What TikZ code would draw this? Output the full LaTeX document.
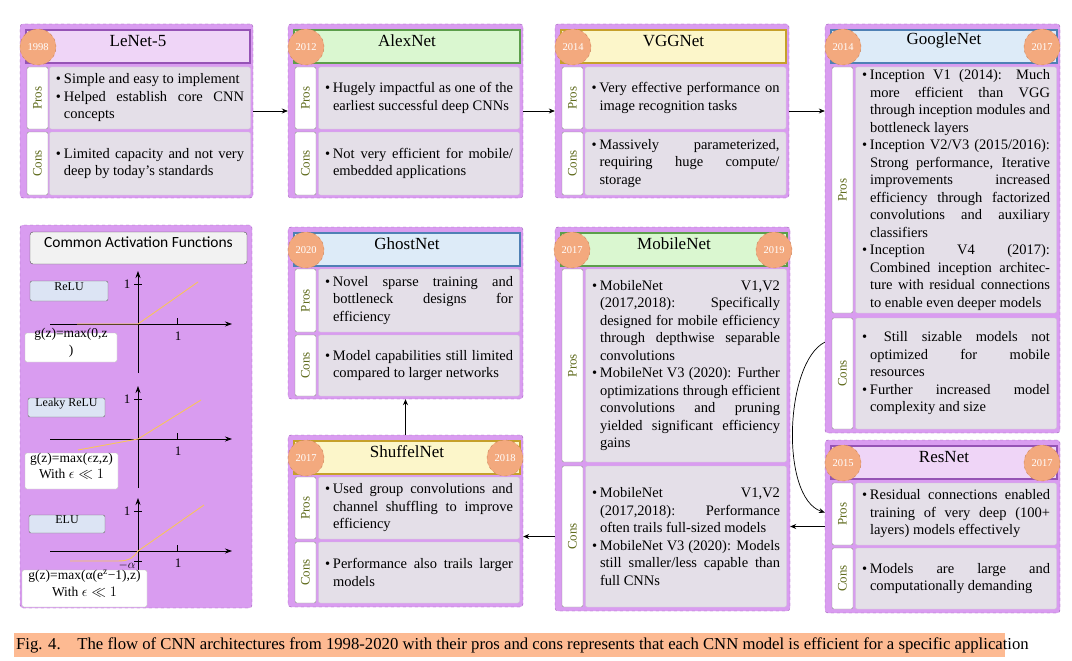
\documentclass[tikz,border=0pt]{standalone}
\usepackage{amsmath}
\usepackage{fontspec}
\setmainfont{Liberation Serif}
\newfontfamily\calfont{Carlito}
\usetikzlibrary{arrows.meta,positioning,fit,calc}
\definecolor{cardFill}{HTML}{D99CF0}
\definecolor{cardEdge}{HTML}{9B59B6}
\definecolor{purFill}{HTML}{EFD5F7}
\definecolor{purEdge}{HTML}{9553B5}
\definecolor{grnFill}{HTML}{DAF7D0}
\definecolor{grnEdge}{HTML}{5C9E4B}
\definecolor{ylwFill}{HTML}{FCF6CA}
\definecolor{ylwEdge}{HTML}{C6A02A}
\definecolor{bluFill}{HTML}{DDEBF8}
\definecolor{bluEdge}{HTML}{4F80B5}
\definecolor{yrFill}{HTML}{F3A97E}
\definecolor{yrEdge}{HTML}{C98258}
\definecolor{bodyFill}{HTML}{E4DFE8}
\definecolor{bodyEdge}{HTML}{CEC6D4}
\definecolor{sideEdge}{HTML}{8C8C8C}
\definecolor{sideText}{HTML}{5F6B1C}
\definecolor{actCurve}{HTML}{F8C45A}
\definecolor{fnFill}{HTML}{DCE4F4}
\definecolor{capFill}{HTML}{FDBA92}
\newcommand{\bul}{\par\noindent\hangindent=8pt\hangafter=1\hbox to 8pt{\textbullet\hfil}}
\newcommand{\cnnbody}[1]{\parbox{188pt}{\lefthyphenmin=62\righthyphenmin=62\tolerance=9999\emergencystretch=20pt #1}}

\begin{document}
\begin{tikzpicture}[
  x=1pt,y=-1pt,
  card/.style={draw=cardEdge,dashed,fill=cardFill,rounded corners=3pt,inner sep=0pt},
  ttl/.style={line width=1.1pt,inner sep=0pt,font=\fontsize{17}{20}\selectfont},
  yr/.style={circle,draw=yrEdge,dashed,fill=yrFill,minimum size=36pt,inner sep=0pt,text=white,font=\fontsize{10.5}{12}\selectfont},
  side/.style={draw=sideEdge,fill=white,rounded corners=2pt,rotate=90,minimum height=21pt,inner sep=0pt,text=sideText,font=\fontsize{13}{15}\selectfont},
  body/.style={draw=bodyEdge,fill=bodyFill,rounded corners=2pt,inner sep=0pt,minimum width=201pt,font=\fontsize{14.5}{17.5}\selectfont},
  fnbox/.style={draw=black!60,fill=fnFill,rounded corners=2pt,inner sep=0pt,font=\fontsize{12}{14}\selectfont},
  gbox/.style={draw=black!25,fill=white,rounded corners=2pt,inner sep=0pt,align=center,font=\fontsize{13.5}{16.5}\selectfont},
  axis/.style={-{Stealth[length=7pt,width=5pt]},line width=0.8pt},
  fcurve/.style={actCurve,line width=0.9pt},
  flow/.style={-{Stealth[length=6pt,width=5pt]},line width=0.7pt}
]
\useasboundingbox (0,0) rectangle (1072,661);

% LeNet-5
\node[card,fit={(20,24)(253,198)}] (lenet) {};
\node[ttl,draw=purEdge,fill=purFill,fit={(26,30)(250,63)}] (lenetT) {LeNet-5};
\node[yr] (lenetY) at (38,47) {1998};
\node[side,minimum width=62pt] (lenetP) at (37.5,98) {Pros};
\node[body,minimum height=62pt] (lenetPB) at (150,98) {\cnnbody{\bul Simple and easy to implement\bul Helped establish core CNN concepts}};
\node[side,minimum width=63pt] (lenetC) at (37.5,163.5) {Cons};
\node[body,minimum height=63pt] (lenetCB) at (150,163.5) {\cnnbody{\bul Limited capacity and not very deep by today's standards}};

% AlexNet
\node[card,fit={(288,24)(523,198)}] (alex) {};
\node[ttl,draw=grnEdge,fill=grnFill,fit={(294,30)(520,63)}] (alexT) {AlexNet};
\node[yr] (alexY) at (306,47) {2012};
\node[side,minimum width=62pt] (alexP) at (305.5,98) {Pros};
\node[body,minimum height=62pt] (alexPB) at (419,98) {\cnnbody{\bul Hugely impactful as one of the earliest successful deep CNNs}};
\node[side,minimum width=63pt] (alexC) at (305.5,163.5) {Cons};
\node[body,minimum height=63pt] (alexCB) at (419,163.5) {\cnnbody{\bul Not very efficient for mobile/ embedded applications}};

% VGGNet
\node[card,fit={(555,24)(789,198)}] (vgg) {};
\node[ttl,draw=ylwEdge,fill=ylwFill,fit={(561,30)(786,63)}] (vggT) {VGGNet};
\node[yr] (vggY) at (573,47) {2014};
\node[side,minimum width=62pt] (vggP) at (572.5,98) {Pros};
\node[body,minimum height=62pt] (vggPB) at (685.5,98) {\cnnbody{\bul Very effective performance on image recognition tasks}};
\node[side,minimum width=63pt] (vggC) at (572.5,163.5) {Cons};
\node[body,minimum height=63pt] (vggCB) at (685.5,163.5) {\cnnbody{\bul Massively parameterized, requiring huge compute/ storage}};

% GoogleNet
\node[card,fit={(825,24)(1060,433)}] (google) {};
\node[ttl,draw=bluEdge,fill=bluFill,fit={(831,30)(1057,63)}] (googleT) {GoogleNet};
\node[yr] (googleY) at (843,47) {2014};
\node[yr] (googleZ) at (1042,47) {2017};
\node[side,minimum width=246pt] (googleP) at (842.5,190) {Pros};
\node[body,minimum height=246pt] (googlePB) at (956,190) {\cnnbody{\bul Inception V1 (2014): Much more efficient than VGG through inception modules and bottleneck layers\bul Inception V2/V3 (2015/2016): Strong performance, Iterative improvements increased efficiency through factorized convolutions and auxiliary classifiers\bul Inception V4 (2017): Combined inception architec\-ture with residual connections to enable even deeper models}};
\node[side,minimum width=111pt] (googleC) at (842.5,373.5) {Cons};
\node[body,minimum height=111pt] (googleCB) at (956,373.5) {\cnnbody{\bul\ Still sizable models not optimized for mobile\linebreak resources\bul Further increased model complexity and size}};

% ResNet
\node[card,fit={(825,440)(1060,613)}] (resnet) {};
\node[ttl,draw=purEdge,fill=purFill,fit={(831,446)(1057,479)}] (resnetT) {ResNet};
\node[yr] (resnetY) at (843,463) {2015};
\node[yr] (resnetZ) at (1042,463) {2017};
\node[side,minimum width=62pt] (resnetP) at (842.5,514) {Pros};
\node[body,minimum height=62pt] (resnetPB) at (956,514) {\cnnbody{\bul Residual connections enabled training of very deep (100+ layers) models effectively}};
\node[side,minimum width=61pt] (resnetC) at (842.5,578.5) {Cons};
\node[body,minimum height=61pt] (resnetCB) at (956,578.5) {\cnnbody{\bul Models are large and computationally demanding}};

% MobileNet
\node[card,fit={(555,227)(790,611)}] (mobile) {};
\node[ttl,draw=grnEdge,fill=grnFill,fit={(561,233)(787,266)}] (mobileT) {MobileNet};
\node[yr] (mobileY) at (572,250) {2017};
\node[yr] (mobileZ) at (774,250) {2019};
\node[side,minimum width=193pt] (mobileP) at (572.5,365.5) {Pros};
\node[body,minimum height=193pt] (mobilePB) at (686,365.5) {\cnnbody{\bul MobileNet V1,V2 (2017,2018): Specifically designed for mobile efficiency through depthwise separable convolutions\bul MobileNet V3 (2020): Further optimizations through efficient convolutions and pruning yielded significant efficiency gains}};
\node[side,minimum width=141pt] (mobileC) at (572.5,536.5) {Cons};
\node[body,minimum height=141pt] (mobileCB) at (686,536.5) {\cnnbody{\bul MobileNet V1,V2 (2017,2018): Performance often trails full-sized models\bul MobileNet V3 (2020): Models still smaller/less capable than full CNNs}};

% GhostNet
\node[card,fit={(288,227)(523,399)}] (ghost) {};
\node[ttl,draw=bluEdge,fill=bluFill,fit={(294,233)(520,266)}] (ghostT) {GhostNet};
\node[yr] (ghostY) at (306,250) {2020};
\node[side,minimum width=63pt] (ghostP) at (305.5,300.5) {Pros};
\node[body,minimum height=63pt] (ghostPB) at (419,300.5) {\cnnbody{\bul Novel sparse training and bottleneck designs for efficiency}};
\node[side,minimum width=61pt] (ghostC) at (305.5,365.5) {Cons};
\node[body,minimum height=61pt] (ghostCB) at (419,365.5) {\cnnbody{\bul Model capabilities still limited compared to larger networks}};

% ShuffelNet
\node[card,fit={(288,435)(523,607)}] (shuffel) {};
\node[ttl,draw=ylwEdge,fill=ylwFill,fit={(294,441)(520,474)}] (shuffelT) {ShuffelNet};
\node[yr] (shuffelY) at (306,458) {2017};
\node[yr] (shuffelZ) at (505,458) {2018};
\node[side,minimum width=62pt] (shuffelP) at (305.5,508) {Pros};
\node[body,minimum height=62pt] (shuffelPB) at (419,508) {\cnnbody{\bul Used group convolutions and channel shuffling to improve efficiency}};
\node[side,minimum width=61pt] (shuffelC) at (305.5,572.5) {Cons};
\node[body,minimum height=61pt] (shuffelCB) at (419,572.5) {\cnnbody{\bul Performance also trails larger models}};

% activation functions
\node[card,fit={(20,225)(252,608)}] (act) {};
\node[draw=black!70,fill=black!5,rounded corners=3pt,inner sep=0pt,font=\calfont\fontsize{15.5}{18}\selectfont,fit={(30,232)(247,264)}] (actT) {Common Activation Functions};
\foreach \oy/\nm in {324/relu,439/leaky,551/elu} {
  \draw[axis] (50,\oy) -- (232,\oy);
  \draw[axis] (138,\oy+49) -- (138,\oy-53);
  \draw[line width=0.8pt] (134,\oy-40) -- (142,\oy-40);
  \draw[line width=0.8pt] (177,\oy) -- (177,\oy-6);
  \node[font=\fontsize{13}{15}\selectfont] (\nm Y) at (127,\oy-40) {1};
  \node[font=\fontsize{13}{15}\selectfont] (\nm X) at (178,\oy+12) {1};
}
\draw[fcurve] (77,324) -- (138,324) -- (198,282);
\draw[fcurve] (78,450) -- (138,439) -- (201,400);
\draw[fcurve] (70,561) -- (118,561) .. controls (130,561) and (134,557) .. (138,551) -- (204,505);
\draw[line width=0.8pt] (134,561) -- (142,561);
\node[font=\fontsize{12}{14}\selectfont] (eluA) at (127,565) {$-\alpha$};
\node[fnbox,fit={(30,281)(108,301)}] (relu) {ReLU};
\node[fnbox,fit={(28,398)(105,417)}] (leaky) {Leaky ReLU};
\node[fnbox,fit={(29,515)(105,533)}] (elu) {ELU};
\node[gbox,fit={(25,333)(117,362)}] (reluG) {g(z)=max(0,z\\)};
\node[gbox,fit={(25,453)(118,489)}] (leakyG) {g(z)=max($\epsilon$z,z)\\With $\epsilon\ll 1$};
\node[gbox,fit={(22,570)(147,607)}] (eluG) {g(z)=max(α(e\textsuperscript{z}−1),z)\\With $\epsilon\ll 1$};

% connectors
\draw[flow] (lenet) -- (alex);
\draw[flow] (alex) -- (vgg);
\draw[flow] (vgg.east) -- (vgg.east -| google.west);
\draw[flow] ([yshift=91pt]google.south west) .. controls +(-40,20) and +(-45,-15) .. ([yshift=14pt]resnet.west);
\draw[flow] (resnet.west) -- (resnet.west -| mobile.east);
\draw[flow] (mobileC -| mobile.west) -- (mobileC -| shuffel.east);
\draw[flow] (shuffel) -- (ghost);

% caption
\node[fill=capFill,inner sep=0pt,fit={(14,633)(1005,657)}] (capbg) {};
\node[anchor=west,inner sep=0pt,font=\fontsize{16.7}{18}\selectfont] (cap) at (16,645) {Fig. 4.\quad The flow of CNN architectures from 1998-2020 with their pros and cons represents that each CNN model is efficient for a specific application};
\end{tikzpicture}
\end{document}
